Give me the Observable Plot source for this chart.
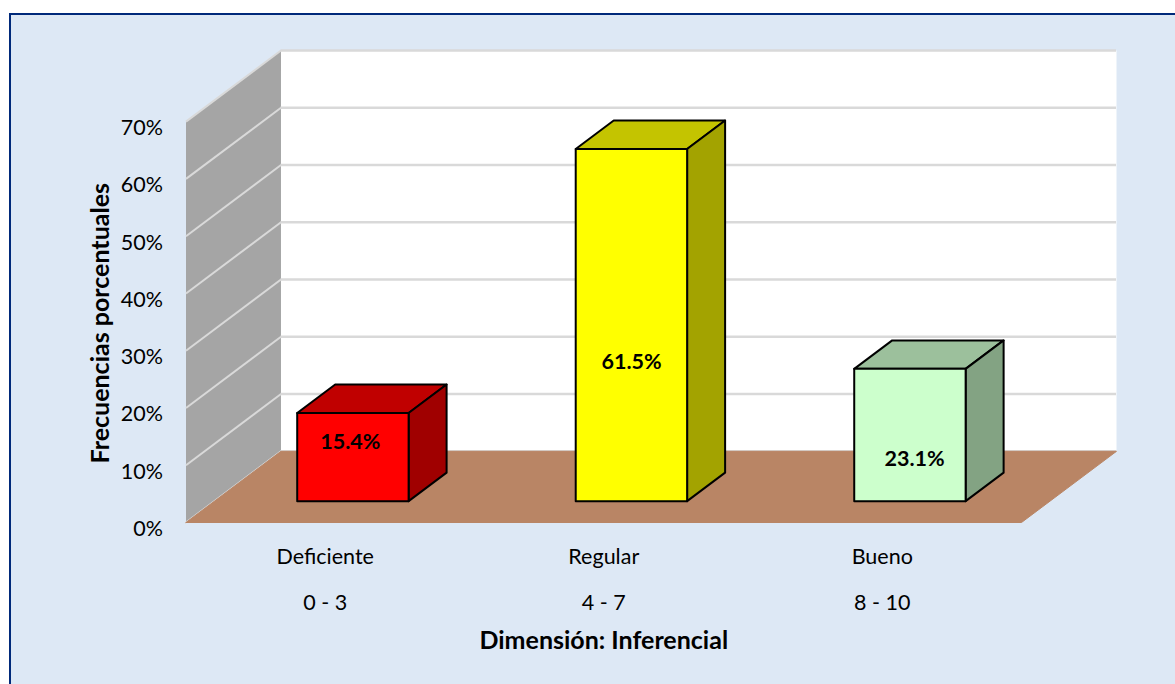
<!DOCTYPE html>
<html>
<head>
<meta charset="utf-8">
<script src="https://cdn.jsdelivr.net/npm/d3@7"></script>
<script src="https://cdn.jsdelivr.net/npm/@observablehq/plot@0.6"></script>
<style>
html,body{margin:0;padding:0;background:#fff;overflow:hidden;width:1175px;height:684px}
#panel{position:absolute;left:9px;top:13px;width:1300px;height:800px;background:#DDE8F5;border:2px solid #00297A;box-sizing:border-box}
#chart{position:absolute;left:0;top:0}
svg{background:transparent!important;display:block}
</style>
</head>
<body>
<div id="panel"></div>
<div id="chart"></div>
<script>
const categories = ["Deficiente", "Regular", "Bueno"];
const ranges = ["0 - 3", "4 - 7", "8 - 10"];
const values = [15.4, 61.5, 23.1];
const labelX = [0.59, 1.6, 2.616];
const labelY = [14.0, 28.0, 11.0];
const frontColors = ["#FF0000", "#FFFF00", "#CCFFCC"];
const topColors = ["#C00000", "#C4C400", "#9CC09C"];
const sideColors = ["#A00000", "#A3A300", "#83A383"];
const yTicks = [0, 10, 20, 30, 40, 50, 60, 70];
const catCentres = [0.5, 1.5, 2.5];
const depthX = 0.341, depthY = 12.43;
const barDepthStart = 0.3, barDepthEnd = 0.7, barHalf = 0.2, barShift = -0.003;

const pts = a => a.map(([x, y]) => ({x, y}));
const poly = (a, fill, stroke, strokeWidth) =>
  Plot.line(pts([...a, a[0]]), {x: "x", y: "y", fill, stroke, strokeWidth, strokeLinejoin: "round"});

const backWall = [[depthX, depthY], [3 + depthX, depthY], [3 + depthX, 70 + depthY], [depthX, 70 + depthY]];
const sideWall = [[0, 0], [depthX, depthY], [depthX, 70 + depthY], [0, 70]];
const floor = [[0, 0], [3, 0], [3 + depthX, depthY], [depthX, depthY]];

const barMarks = values.flatMap((v, i) => {
  const x0 = i + 0.5 - barHalf + barDepthStart * depthX + barShift;
  const x1 = i + 0.5 + barHalf + barDepthStart * depthX + barShift;
  const y0 = barDepthStart * depthY;
  const y1 = y0 + v;
  const dx = (barDepthEnd - barDepthStart) * depthX;
  const dy = (barDepthEnd - barDepthStart) * depthY;
  return [
    poly([[x0, y1], [x1, y1], [x1 + dx, y1 + dy], [x0 + dx, y1 + dy]], topColors[i], "#000", 2),
    poly([[x1, y0], [x1 + dx, y0 + dy], [x1 + dx, y1 + dy], [x1, y1]], sideColors[i], "#000", 2),
    poly([[x0, y0], [x1, y0], [x1, y1], [x0, y1]], frontColors[i], "#000", 2)
  ];
});

const chart = Plot.plot({
  width: 1175,
  height: 684,
  marginLeft: 185.5,
  marginRight: 59,
  marginTop: 49,
  marginBottom: 162,
  x: {type: "linear", domain: [0, 3 + depthX]},
  y: {type: "linear", domain: [0, 82.6]},
  style: {fontFamily: "Lato, Carlito, Calibri, sans-serif", fontSize: "21.5px", color: "#000", background: "transparent"},
  marks: [
    poly(backWall, "#FFFFFF", "none", 0),
    poly(sideWall, "#A5A5A5", "none", 0),
    Plot.ruleY(yTicks, {y: d => d + depthY, x1: depthX, x2: 3 + depthX, stroke: "#D9D9D9", strokeWidth: 2.5, strokeOpacity: 1}),
    Plot.link(yTicks, {x1: 0, y1: d => d, x2: depthX, y2: d => d + depthY, stroke: "#D9D9D9", strokeWidth: 2, strokeOpacity: 1}),
    poly(floor, "#B98565", "#B98565", 1),
    ...barMarks,
    Plot.axisY(yTicks, {anchor: "left", tickSize: 0, tickPadding: 23, dy: 6.5, label: null, tickFormat: d => d + "%"}),
    Plot.axisX(catCentres, {anchor: "bottom", tickSize: 0, tickPadding: 26, label: null, tickFormat: d => categories[Math.floor(d)]}),
    Plot.axisX(catCentres, {anchor: "bottom", tickSize: 0, tickPadding: 72.5, label: null, tickFormat: d => ranges[Math.floor(d)]}),
    Plot.text(values, {x: (d, i) => labelX[i], y: (d, i) => labelY[i], text: d => d.toFixed(1) + "%", fontWeight: "bold", fontSize: 21.5, fill: "#000"}),
    Plot.text(["Dimensión: Inferencial"], {x: 1.5, y: -20.7, text: d => d, fontWeight: "bold", fontSize: 25, fill: "#000"}),
    Plot.text(["Frecuencias porcentuales"], {x: -0.305, y: 34.8, text: d => d, rotate: -90, fontWeight: "bold", fontSize: 25, fill: "#000"})
  ]
});
document.getElementById("chart").appendChild(chart);
</script>
</body>
</html>
